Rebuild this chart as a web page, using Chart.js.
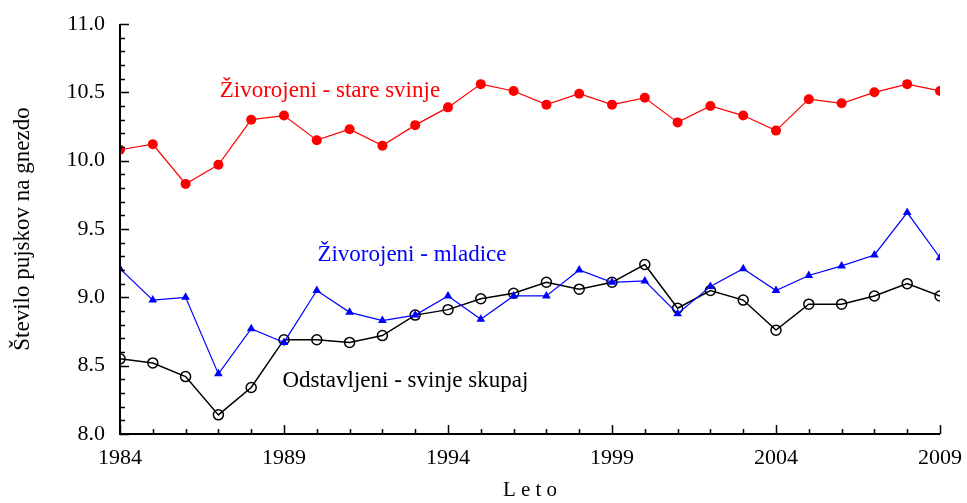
<!DOCTYPE html>
<html lang="sl">
<head>
  <meta charset="UTF-8">
  <title>Število pujskov na gnezdo</title>
  <script src="https://cdn.jsdelivr.net/npm/chart.js"></script>
  <style>
    html, body { margin: 0; padding: 0; background: #fff; }
    #wrap { width: 967px; height: 503px; }
  </style>
</head>
<body>
  <div id="wrap"><canvas id="pujskiChart" width="967" height="503"></canvas></div>

  <script>
    // podatki, odčitani s slike
    const leta = [1984, 1985, 1986, 1987, 1988, 1989, 1990, 1991, 1992, 1993, 1994, 1995, 1996,
                  1997, 1998, 1999, 2000, 2001, 2002, 2003, 2004, 2005, 2006, 2007, 2008, 2009];
    const stareSvinje = [10.08, 10.12, 9.83, 9.97, 10.30, 10.33, 10.15, 10.23, 10.11, 10.26, 10.39, 10.56, 10.51,
                         10.41, 10.49, 10.41, 10.46, 10.28, 10.40, 10.33, 10.22, 10.45, 10.42, 10.50, 10.56, 10.51];
    const mladice = [9.21, 8.98, 9.00, 8.44, 8.77, 8.67, 9.05, 8.89, 8.83, 8.87, 9.01, 8.84, 9.01,
                     9.01, 9.20, 9.11, 9.12, 8.88, 9.08, 9.21, 9.05, 9.16, 9.23, 9.31, 9.62, 9.29];
    const odstavljeni = [8.55, 8.52, 8.42, 8.14, 8.34, 8.69, 8.69, 8.67, 8.72, 8.87, 8.91, 8.99, 9.03,
                         9.11, 9.06, 9.11, 9.24, 8.92, 9.05, 8.98, 8.76, 8.95, 8.95, 9.01, 9.10, 9.01];
    const letaOznake = [1984, 1989, 1994, 1999, 2004, 2009];
    const yOznake = [8.0, 8.5, 9.0, 9.5, 10.0, 10.5, 11.0];

    const serif = "'Liberation Serif', 'Times New Roman', serif";

    const toPts = arr => arr.map((v, i) => ({ x: leta[i], y: v }));

    // napisi ob krivuljah (v koordinatah podatkov)
    const napisi = [
      { text: 'Živorojeni - stare svinje', x: 1990.4, y: 10.51, color: '#ff0000' },
      { text: 'Živorojeni - mladice', x: 1992.9, y: 9.31, color: '#0000ff' },
      { text: 'Odstavljeni - svinje skupaj', x: 1992.7, y: 8.39, color: '#000000' }
    ];

    // osi s kljukicami navznoter in napisi
    const osiPlugin = {
      id: 'osi',
      afterDatasetsDraw(chart) {
        const { ctx, chartArea, scales } = chart;
        const xs = scales.x, ys = scales.y;
        ctx.save();
        ctx.strokeStyle = '#000';
        ctx.lineWidth = 2;
        ctx.beginPath();
        ctx.moveTo(chartArea.left, chartArea.top);
        ctx.lineTo(chartArea.left, chartArea.bottom);
        ctx.lineTo(chartArea.right, chartArea.bottom);
        ctx.stroke();

        ctx.lineWidth = 1.5;
        ctx.beginPath();
        for (const l of leta) {
          const px = Math.round(xs.getPixelForValue(l)) + 0.5;
          const len = letaOznake.includes(l) ? 9 : 5;
          ctx.moveTo(px, chartArea.bottom);
          ctx.lineTo(px, chartArea.bottom - len);
        }
        for (let i = 0; i <= 30; i++) {
          const v = 8 + i / 10;
          const py = Math.round(ys.getPixelForValue(v)) + 0.5;
          const len = i % 5 === 0 ? 9 : 5;
          ctx.moveTo(chartArea.left, py);
          ctx.lineTo(chartArea.left + len, py);
        }
        ctx.stroke();

        ctx.font = '23px ' + serif;
        ctx.textAlign = 'center';
        ctx.textBaseline = 'middle';
        for (const n of napisi) {
          ctx.fillStyle = n.color;
          ctx.fillText(n.text, xs.getPixelForValue(n.x), ys.getPixelForValue(n.y));
        }
        ctx.restore();
      }
    };

    new Chart(document.getElementById('pujskiChart'), {
      type: 'line',
      data: {
        datasets: [
          {
            label: 'Živorojeni - stare svinje',
            data: toPts(stareSvinje),
            borderColor: '#ff0000',
            backgroundColor: '#ff0000',
            borderWidth: 1.2,
            pointStyle: 'circle',
            pointRadius: 5,
            pointBorderWidth: 0
          },
          {
            label: 'Živorojeni - mladice',
            data: toPts(mladice),
            borderColor: '#0000ff',
            backgroundColor: '#0000ff',
            borderWidth: 1.2,
            pointStyle: 'triangle',
            pointRadius: 5,
            pointBorderWidth: 0
          },
          {
            label: 'Odstavljeni - svinje skupaj',
            data: toPts(odstavljeni),
            borderColor: '#000000',
            backgroundColor: 'rgba(0,0,0,0)',
            borderWidth: 1.5,
            pointStyle: 'circle',
            pointRadius: 5,
            pointBorderWidth: 1.5,
            pointBackgroundColor: 'rgba(0,0,0,0)'
          }
        ]
      },
      options: {
        responsive: false,
        animation: false,
        layout: { padding: { top: 24, right: 27, left: 0, bottom: 0 } },
        plugins: {
          legend: { display: false },
          tooltip: { enabled: false }
        },
        scales: {
          x: {
            type: 'linear',
            min: 1984,
            max: 2009,
            afterFit(scale) {
              scale.height = 69;
              scale.paddingLeft = 0;
              scale.paddingRight = 0;
            },
            afterBuildTicks(scale) { scale.ticks = letaOznake.map(v => ({ value: v })); },
            grid: { display: false, drawTicks: false },
            border: { display: false },
            ticks: {
              padding: 11,
              color: '#000',
              font: { family: serif, size: 22 },
              callback: v => String(v)
            },
            title: {
              display: true,
              text: 'L e t o',
              color: '#000',
              font: { family: serif, size: 21 },
              padding: { top: 2, bottom: 0 }
            }
          },
          y: {
            min: 8,
            max: 11,
            afterFit(scale) {
              scale.width = 120;
              scale.paddingTop = 0;
              scale.paddingBottom = 0;
            },
            afterBuildTicks(scale) { scale.ticks = yOznake.map(v => ({ value: v })); },
            grid: { display: false, drawTicks: false },
            border: { display: false },
            ticks: {
              padding: 15,
              color: '#000',
              font: { family: serif, size: 22 },
              callback: v => v.toFixed(1)
            },
            title: {
              display: true,
              text: 'Število pujskov na gnezdo',
              color: '#000',
              font: { family: serif, size: 23 },
              padding: { top: 9, bottom: 0 }
            }
          }
        }
      },
      plugins: [osiPlugin]
    });
  </script>
</body>
</html>
